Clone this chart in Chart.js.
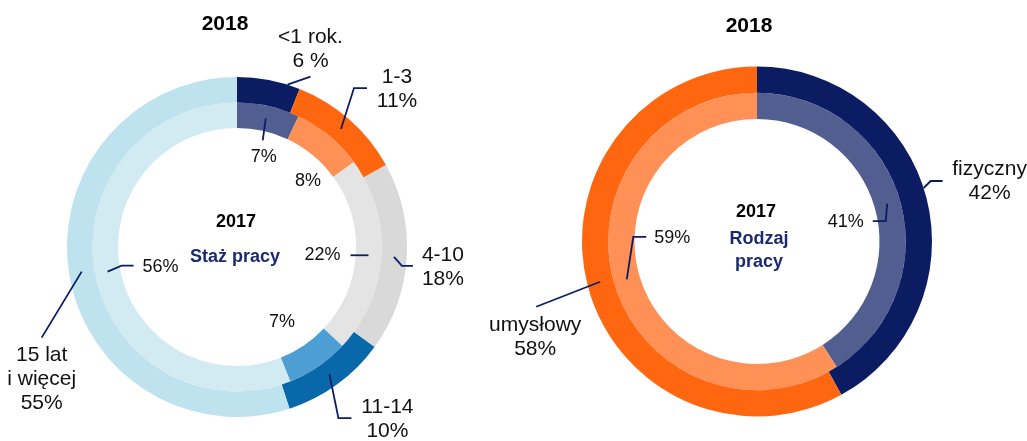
<!DOCTYPE html>
<html lang="pl">
<head>
<meta charset="utf-8">
<title>Staż i rodzaj pracy 2017–2018</title>
<script src="https://cdn.jsdelivr.net/npm/chart.js@4.4.0/dist/chart.umd.min.js"></script>
<style>
  html, body { margin: 0; padding: 0; background: #fff; }
  #wrap { position: relative; width: 1027px; height: 441px; overflow: hidden; }
  canvas { position: absolute; top: 0; }
  #chartStaz { left: 0; }
  #chartRodzaj { left: 460px; }
</style>
</head>
<body>
<div id="wrap">
  <canvas id="chartStaz" width="520" height="441"></canvas>
  <canvas id="chartRodzaj" width="567" height="441"></canvas>
</div>
<script>
// staż pracy (lata)
const stazCategories = ["<1 rok.", "1-3", "4-10", "11-14", "15 lat i więcej"];
const stazLines = [["<1 rok."], ["1-3"], ["4-10"], ["11-14"], ["15 lat", "i więcej"]];
const staz2018 = [6, 11, 18, 10, 55];
const staz2017 = [7, 8, 22, 7, 56];

// rodzaj pracy
const rodzajCategories = ["fizyczny", "umysłowy"];
const rodzaj2018 = [42, 58];
const rodzaj2017 = [41, 59];

const NAVY = "#0B1D64";
const FONT = "'Liberation Sans', Arial, sans-serif";

// rysuje opisy pierścieni, linie odniesienia i teksty w środku
const ringLabels = {
  id: "ringLabels",
  afterDatasetsDraw(chart, args, opts) {
    const ctx = chart.ctx;
    const meta0 = chart.getDatasetMeta(0).data[0];
    const cx = meta0.x, cy = meta0.y;
    ctx.save();
    ctx.textAlign = "center";
    ctx.textBaseline = "middle";

    opts.items.forEach((it) => {
      const arc = chart.getDatasetMeta(it.ds).data[it.i];
      const ang = arc.startAngle + (it.t ?? 0.5) * (arc.endAngle - arc.startAngle);
      const rad = arc.innerRadius + (it.r ?? 0.5) * (arc.outerRadius - arc.innerRadius);
      const ax = arc.x + Math.cos(ang) * rad;
      const ay = arc.y + Math.sin(ang) * rad;

      if (it.path) {
        ctx.strokeStyle = NAVY;
        ctx.lineWidth = 1.8;
        ctx.beginPath();
        ctx.moveTo(ax, ay);
        it.path.forEach(([dx, dy]) => ctx.lineTo(ax + dx, ay + dy));
        ctx.stroke();
      }

      const ds = chart.data.datasets[it.ds];
      const value = ds.data[it.i];
      const lines = it.ds === 0 ? [...opts.names[it.i]] : [];
      lines.push(value + (it.sep || "") + "%");
      ctx.fillStyle = "#111";
      ctx.font = (it.ds === 0 ? "21px " : "18px ") + FONT;
      lines.forEach((s, k) => {
        ctx.fillText(s, ax + it.text[0], ay + it.text[1] + k * 24);
      });
    });

    opts.center.forEach((c) => {
      ctx.fillStyle = c.color;
      ctx.font = "bold " + c.size + "px " + FONT;
      ctx.fillText(c.text, cx + c.dx, cy + c.dy);
    });
    ctx.restore();
  }
};

function ringChart(id, padding, d2018, d2017, colors18, colors17, labels, names, items, center) {
  return new Chart(document.getElementById(id), {
    type: "doughnut",
    data: {
      labels: labels,
      datasets: [
        { label: "2018", data: d2018, backgroundColor: colors18, borderWidth: 0 },
        { label: "2017", data: d2017, backgroundColor: colors17, borderWidth: 0 }
      ]
    },
    options: {
      responsive: false,
      animation: false,
      cutout: "70%",
      layout: { padding: padding },
      plugins: {
        legend: { display: false },
        tooltip: { enabled: false },
        ringLabels: { names: names, items: items, center: center }
      }
    },
    plugins: [ringLabels]
  });
}

ringChart(
  "chartStaz",
  { left: 67, right: 113, top: 77, bottom: 24 },
  staz2018, staz2017,
  ["#0B1C62", "#FF6610", "#D9D9D9", "#0868AA", "#BEE2EE"],
  ["#525E90", "#FF9056", "#E4E4E4", "#4C9ED3", "#D2EAF2"],
  stazCategories, stazLines,
  [
    { ds: 0, i: 0, t: 0.8, r: 1.0, sep: " ", path: [[23, -8]], text: [23, -47] },
    { ds: 0, i: 1, path: [[13, -41], [26, -41]], text: [56, -52] },
    { ds: 0, i: 2, path: [[8, 9], [19, 9]], text: [49, -2] },
    { ds: 0, i: 3, path: [[9, 44], [22, 44]], text: [58, 33] },
    { ds: 0, i: 4, path: [[-40, 66]], text: [-40, 84] },
    { ds: 1, i: 0, path: [[-3, 22]], text: [-2, 39] },
    { ds: 1, i: 1, text: [-13, 36] },
    { ds: 1, i: 2, path: [[-18, 0]], text: [-46, 0] },
    { ds: 1, i: 3, text: [-29, -34] },
    { ds: 1, i: 4, path: [[14, -6], [26, -6]], text: [53, -5] }
  ],
  [
    { text: "2018", dx: -12, dy: -223, size: 21, color: "#000" },
    { text: "2017", dx: -1, dy: -25, size: 18, color: "#000" },
    { text: "Staż pracy", dx: -2, dy: 10, size: 18, color: "#1B2A6E" }
  ]
);

ringChart(
  "chartRodzaj",
  { left: 122, right: 95, top: 66.5, bottom: 24.5 },
  rodzaj2018, rodzaj2017,
  ["#0B1C62", "#FF6610"],
  ["#525E90", "#FF9056"],
  rodzajCategories, rodzajCategories.map((c) => [c]),
  [
    { ds: 0, i: 0, t: 0.4775, r: 1.0, path: [[7, -7], [19, -7]], text: [66, -19] },
    { ds: 0, i: 1, path: [[-64, 25]], text: [-65, 43] },
    { ds: 1, i: 0, path: [[-1.5, 17.5], [-14.5, 17.5]], text: [-41.5, 18.5] },
    { ds: 1, i: 1, path: [[6.5, -42.5], [19.5, -42.5]], text: [45.5, -41.5] }
  ],
  [
    { text: "2018", dx: -8, dy: -215.5, size: 21, color: "#000" },
    { text: "2017", dx: -1, dy: -29.5, size: 18, color: "#000" },
    { text: "Rodzaj", dx: 2, dy: -2.5, size: 18, color: "#1B2A6E" },
    { text: "pracy", dx: 2, dy: 20.5, size: 18, color: "#1B2A6E" }
  ]
);
</script>
</body>
</html>
